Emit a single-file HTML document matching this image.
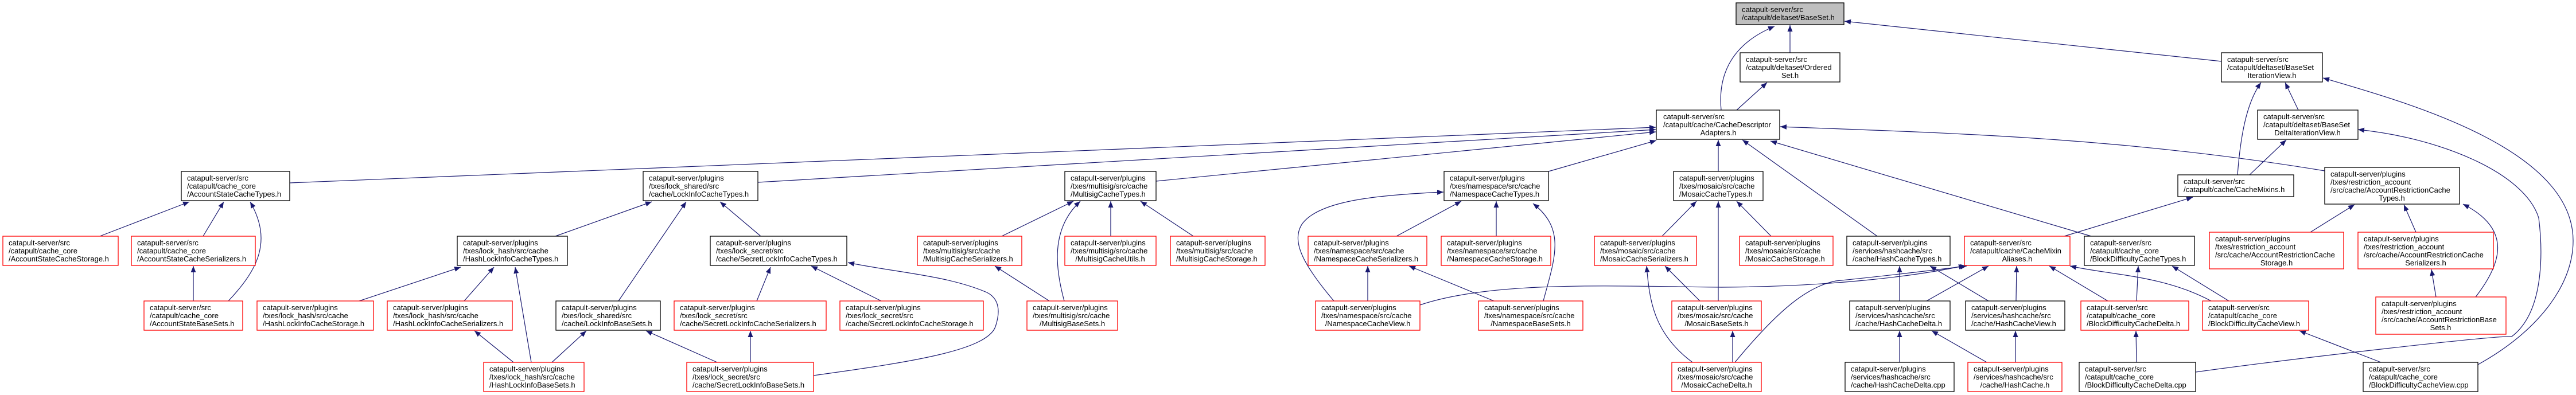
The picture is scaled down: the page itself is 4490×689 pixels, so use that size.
<!DOCTYPE html>
<html><head><meta charset="utf-8"><style>
html,body{margin:0;padding:0;background:#fff;}
svg{display:block;}
text{font-family:"Liberation Sans",Arial,sans-serif;font-size:13px;fill:#000;}
.e{fill:none;stroke:#191970;stroke-width:1.2;marker-end:url(#a);}
.b{fill:#fff;stroke:#000;stroke-width:1.3;}
.r{fill:#fff;stroke:#ff0000;stroke-width:1.3;}
</style></head><body>
<svg width="4490" height="689" viewBox="0 0 4490 689" xmlns="http://www.w3.org/2000/svg">
<defs><marker id="a" markerUnits="userSpaceOnUse" markerWidth="12" markerHeight="10" refX="11" refY="4.5" orient="auto"><path d="M0,0 L11,4.5 L0,9 z" fill="#191970"/></marker></defs>

<!-- edges -->
<path class="e" d="M3000,192 C2995,140 3010,80 3093,46"/>
<path class="e" d="M3120,92 L3120,44"/>
<path class="e" d="M3027,192 L3080,144"/>
<path class="e" d="M3872,107 L3215,37"/>
<path class="e" d="M3900,305 C3905,240 3915,180 3941,144"/>
<path class="e" d="M4006,192 L3983,144"/>
<path class="e" d="M3921,305 L3985,244"/>
<path class="e" d="M4052,298 C3700,240 3400,232 3103,221"/>
<path class="e" d="M3598,412 L3822,344"/>
<path class="e" d="M3272,412 L3037,244"/>
<path class="e" d="M3645,412 L3086,246"/>
<path class="e" d="M3087,412 L3027,351"/>
<path class="e" d="M4027,405 L4104,357"/>
<path class="e" d="M4211,405 L4190,357"/>
<path class="e" d="M4315,518 C4360,460 4380,400 4293,356"/>
<path class="e" d="M4246,518 L4238,470"/>
<path class="e" d="M3827,649 C4000,625 4350,585 4378,587 C4440,540 4430,420 4425,380 C4400,300 4250,240 4110,226"/>
<path class="e" d="M4319,636 C4420,580 4485,500 4485,420 C4485,260 4200,180 4049,136"/>
<path class="e" d="M4150,632 L4008,577"/>
<path class="e" d="M3724,632 L3723,577"/>
<path class="e" d="M3724,525 L3727,464"/>
<path class="e" d="M3885,525 L3786,464"/>
<path class="e" d="M3674,525 L3572,464"/>
<path class="e" d="M3854,525 C3770,480 3680,480 3608,464"/>
<path class="e" d="M3514,525 L3515,464"/>
<path class="e" d="M3358,525 L3466,464"/>
<path class="e" d="M3311,525 L3311,464"/>
<path class="e" d="M3466,525 L3364,464"/>
<path class="e" d="M3311,632 L3311,577"/>
<path class="e" d="M3463,632 L3367,577"/>
<path class="e" d="M3513,632 L3513,577"/>
<path class="e" d="M3024,632 C3100,540 3150,500 3200,490 C3300,480 3380,470 3428,464"/>
<path class="e" d="M2475,532 C2600,490 2800,499 3000,501 C3200,500 3350,480 3425,463"/>
<path class="e" d="M505,319 L2886,222"/>
<path class="e" d="M1321,318 L2886,226"/>
<path class="e" d="M2015,316 L2886,230"/>
<path class="e" d="M2699,299 L2887,245"/>
<path class="e" d="M2995,299 L2995,244"/>
<path class="e" d="M1746,412 L1871,351"/>
<path class="e" d="M1855,525 C1840,470 1830,400 1883,351"/>
<path class="e" d="M1936,412 L1936,351"/>
<path class="e" d="M2080,412 L1988,351"/>
<path class="e" d="M1829,525 L1734,464"/>
<path class="e" d="M2434,412 L2547,351"/>
<path class="e" d="M2608,412 L2608,351"/>
<path class="e" d="M2690,525 C2710,450 2730,400 2672,355"/>
<path class="e" d="M2325,525 C2270,460 2250,420 2270,390 C2300,350 2400,340 2516,335"/>
<path class="e" d="M2384,525 L2384,464"/>
<path class="e" d="M2604,525 L2456,464"/>
<path class="e" d="M2897,412 L2957,351"/>
<path class="e" d="M2995,525 L2995,351"/>
<path class="e" d="M2963,525 L2902,464"/>
<path class="e" d="M2950,632 C2880,580 2875,520 2870,464"/>
<path class="e" d="M3020,632 L3020,577"/>
<path class="e" d="M1418,655 C1600,630 1720,610 1735,570 C1745,540 1740,520 1720,510 C1650,480 1560,475 1478,458"/>
<path class="e" d="M1536,525 L1414,464"/>
<path class="e" d="M174,412 L330,352"/>
<path class="e" d="M354,412 L390,352"/>
<path class="e" d="M398,525 C450,470 475,420 436,352"/>
<path class="e" d="M337,525 L337,464"/>
<path class="e" d="M968,412 L1136,352"/>
<path class="e" d="M1078,525 L1196,352"/>
<path class="e" d="M1326,412 L1255,352"/>
<path class="e" d="M626,525 L803,466"/>
<path class="e" d="M809,525 L861,466"/>
<path class="e" d="M926,632 L898,466"/>
<path class="e" d="M895,632 L827,577"/>
<path class="e" d="M962,632 L1022,577"/>
<path class="e" d="M1250,632 L1126,577"/>
<path class="e" d="M1319,525 L1343,466"/>
<path class="e" d="M1308,632 L1308,577"/>

<!-- nodes -->
<rect x="3026" y="5" width="188" height="38" fill="#bfbfbf" stroke="#000" stroke-width="1.3"/>
<text x="3036" y="21">catapult-server/src</text><text x="3036" y="35">/catapult/deltaset/BaseSet.h</text>

<rect class="b" x="3033" y="92" width="174" height="51"/>
<text x="3043" y="108">catapult-server/src</text><text x="3043" y="122">/catapult/deltaset/Ordered</text><text x="3120" y="136" text-anchor="middle">Set.h</text>

<rect class="b" x="3872" y="92" width="176" height="51"/>
<text x="3882" y="108">catapult-server/src</text><text x="3882" y="122">/catapult/deltaset/BaseSet</text><text x="3960" y="136" text-anchor="middle">IterationView.h</text>

<rect class="b" x="3935" y="192" width="175" height="51"/>
<text x="3945" y="208">catapult-server/src</text><text x="3945" y="222">/catapult/deltaset/BaseSet</text><text x="4022" y="236" text-anchor="middle">DeltaIterationView.h</text>

<rect class="b" x="2887" y="192" width="215" height="51"/>
<text x="2899" y="208">catapult-server/src</text><text x="2899" y="222">/catapult/cache/CacheDescriptor</text><text x="2995" y="236" text-anchor="middle">Adapters.h</text>

<rect class="b" x="3796" y="305" width="202" height="38"/>
<text x="3806" y="321">catapult-server/src</text><text x="3806" y="335">/catapult/cache/CacheMixins.h</text>

<rect class="b" x="4052" y="292" width="235" height="64"/>
<text x="4062" y="308">catapult-server/plugins</text><text x="4062" y="322">/txes/restriction_account</text><text x="4062" y="336">/src/cache/AccountRestrictionCache</text><text x="4169" y="350" text-anchor="middle">Types.h</text>

<rect class="b" x="316" y="299" width="189" height="51"/>
<text x="326" y="315">catapult-server/src</text><text x="326" y="329">/catapult/cache_core</text><text x="326" y="343">/AccountStateCacheTypes.h</text>

<rect class="b" x="1121" y="299" width="200" height="51"/>
<text x="1131" y="315">catapult-server/plugins</text><text x="1131" y="329">/txes/lock_shared/src</text><text x="1131" y="343">/cache/LockInfoCacheTypes.h</text>

<rect class="b" x="1856" y="299" width="159" height="51"/>
<text x="1866" y="315">catapult-server/plugins</text><text x="1866" y="329">/txes/multisig/src/cache</text><text x="1866" y="343">/MultisigCacheTypes.h</text>

<rect class="b" x="2517" y="299" width="182" height="51"/>
<text x="2527" y="315">catapult-server/plugins</text><text x="2527" y="329">/txes/namespace/src/cache</text><text x="2527" y="343">/NamespaceCacheTypes.h</text>

<rect class="b" x="2917" y="299" width="156" height="51"/>
<text x="2927" y="315">catapult-server/plugins</text><text x="2927" y="329">/txes/mosaic/src/cache</text><text x="2927" y="343">/MosaicCacheTypes.h</text>

<!-- row 5 -->
<rect class="r" x="5" y="412" width="201" height="51"/>
<text x="15" y="428">catapult-server/src</text><text x="15" y="442">/catapult/cache_core</text><text x="15" y="456">/AccountStateCacheStorage.h</text>

<rect class="r" x="229" y="412" width="216" height="51"/>
<text x="239" y="428">catapult-server/src</text><text x="239" y="442">/catapult/cache_core</text><text x="239" y="456">/AccountStateCacheSerializers.h</text>

<rect class="b" x="797" y="412" width="192" height="51"/>
<text x="807" y="428">catapult-server/plugins</text><text x="807" y="442">/txes/lock_hash/src/cache</text><text x="807" y="456">/HashLockInfoCacheTypes.h</text>

<rect class="b" x="1238" y="412" width="238" height="51"/>
<text x="1248" y="428">catapult-server/plugins</text><text x="1248" y="442">/txes/lock_secret/src</text><text x="1248" y="456">/cache/SecretLockInfoCacheTypes.h</text>

<rect class="r" x="1599" y="412" width="182" height="51"/>
<text x="1609" y="428">catapult-server/plugins</text><text x="1609" y="442">/txes/multisig/src/cache</text><text x="1609" y="456">/MultisigCacheSerializers.h</text>

<rect class="r" x="1856" y="412" width="159" height="51"/>
<text x="1866" y="428">catapult-server/plugins</text><text x="1866" y="442">/txes/multisig/src/cache</text><text x="1935" y="456" text-anchor="middle">/MultisigCacheUtils.h</text>

<rect class="r" x="2040" y="412" width="165" height="51"/>
<text x="2050" y="428">catapult-server/plugins</text><text x="2050" y="442">/txes/multisig/src/cache</text><text x="2050" y="456">/MultisigCacheStorage.h</text>

<rect class="r" x="2280" y="412" width="207" height="51"/>
<text x="2290" y="428">catapult-server/plugins</text><text x="2290" y="442">/txes/namespace/src/cache</text><text x="2290" y="456">/NamespaceCacheSerializers.h</text>

<rect class="r" x="2512" y="412" width="191" height="51"/>
<text x="2522" y="428">catapult-server/plugins</text><text x="2522" y="442">/txes/namespace/src/cache</text><text x="2522" y="456">/NamespaceCacheStorage.h</text>

<rect class="r" x="2779" y="412" width="178" height="51"/>
<text x="2789" y="428">catapult-server/plugins</text><text x="2789" y="442">/txes/mosaic/src/cache</text><text x="2789" y="456">/MosaicCacheSerializers.h</text>

<rect class="r" x="3032" y="412" width="163" height="51"/>
<text x="3042" y="428">catapult-server/plugins</text><text x="3042" y="442">/txes/mosaic/src/cache</text><text x="3042" y="456">/MosaicCacheStorage.h</text>

<rect class="b" x="3219" y="412" width="180" height="51"/>
<text x="3229" y="428">catapult-server/plugins</text><text x="3229" y="442">/services/hashcache/src</text><text x="3229" y="456">/cache/HashCacheTypes.h</text>

<rect class="r" x="3424" y="412" width="184" height="51"/>
<text x="3434" y="428">catapult-server/src</text><text x="3434" y="442">/catapult/cache/CacheMixin</text><text x="3516" y="456" text-anchor="middle">Aliases.h</text>

<rect class="b" x="3633" y="412" width="192" height="51"/>
<text x="3643" y="428">catapult-server/src</text><text x="3643" y="442">/catapult/cache_core</text><text x="3643" y="456">/BlockDifficultyCacheTypes.h</text>

<rect class="r" x="3851" y="405" width="234" height="64"/>
<text x="3861" y="421">catapult-server/plugins</text><text x="3861" y="435">/txes/restriction_account</text><text x="3861" y="449">/src/cache/AccountRestrictionCache</text><text x="3968" y="463" text-anchor="middle">Storage.h</text>

<rect class="r" x="4110" y="405" width="236" height="64"/>
<text x="4120" y="421">catapult-server/plugins</text><text x="4120" y="435">/txes/restriction_account</text><text x="4120" y="449">/src/cache/AccountRestrictionCache</text><text x="4228" y="463" text-anchor="middle">Serializers.h</text>

<!-- row 6 -->
<rect class="r" x="251" y="525" width="172" height="51"/>
<text x="261" y="541">catapult-server/src</text><text x="261" y="555">/catapult/cache_core</text><text x="261" y="569">/AccountStateBaseSets.h</text>

<rect class="r" x="448" y="525" width="203" height="51"/>
<text x="458" y="541">catapult-server/plugins</text><text x="458" y="555">/txes/lock_hash/src/cache</text><text x="458" y="569">/HashLockInfoCacheStorage.h</text>

<rect class="r" x="675" y="525" width="218" height="51"/>
<text x="685" y="541">catapult-server/plugins</text><text x="685" y="555">/txes/lock_hash/src/cache</text><text x="685" y="569">/HashLockInfoCacheSerializers.h</text>

<rect class="b" x="969" y="525" width="182" height="51"/>
<text x="979" y="541">catapult-server/plugins</text><text x="979" y="555">/txes/lock_shared/src</text><text x="979" y="569">/cache/LockInfoBaseSets.h</text>

<rect class="r" x="1175" y="525" width="265" height="51"/>
<text x="1185" y="541">catapult-server/plugins</text><text x="1185" y="555">/txes/lock_secret/src</text><text x="1185" y="569">/cache/SecretLockInfoCacheSerializers.h</text>

<rect class="r" x="1464" y="525" width="250" height="51"/>
<text x="1474" y="541">catapult-server/plugins</text><text x="1474" y="555">/txes/lock_secret/src</text><text x="1474" y="569">/cache/SecretLockInfoCacheStorage.h</text>

<rect class="r" x="1790" y="525" width="158" height="51"/>
<text x="1800" y="541">catapult-server/plugins</text><text x="1800" y="555">/txes/multisig/src/cache</text><text x="1869" y="569" text-anchor="middle">/MultisigBaseSets.h</text>

<rect class="r" x="2293" y="525" width="182" height="51"/>
<text x="2303" y="541">catapult-server/plugins</text><text x="2303" y="555">/txes/namespace/src/cache</text><text x="2384" y="569" text-anchor="middle">/NamespaceCacheView.h</text>

<rect class="r" x="2577" y="525" width="182" height="51"/>
<text x="2587" y="541">catapult-server/plugins</text><text x="2587" y="555">/txes/namespace/src/cache</text><text x="2668" y="569" text-anchor="middle">/NamespaceBaseSets.h</text>

<rect class="r" x="2914" y="525" width="156" height="51"/>
<text x="2924" y="541">catapult-server/plugins</text><text x="2924" y="555">/txes/mosaic/src/cache</text><text x="2992" y="569" text-anchor="middle">/MosaicBaseSets.h</text>

<rect class="b" x="3224" y="525" width="175" height="51"/>
<text x="3234" y="541">catapult-server/plugins</text><text x="3234" y="555">/services/hashcache/src</text><text x="3234" y="569">/cache/HashCacheDelta.h</text>

<rect class="b" x="3426" y="525" width="173" height="51"/>
<text x="3436" y="541">catapult-server/plugins</text><text x="3436" y="555">/services/hashcache/src</text><text x="3436" y="569">/cache/HashCacheView.h</text>

<rect class="r" x="3627" y="525" width="188" height="51"/>
<text x="3637" y="541">catapult-server/src</text><text x="3637" y="555">/catapult/cache_core</text><text x="3637" y="569">/BlockDifficultyCacheDelta.h</text>

<rect class="r" x="3839" y="525" width="185" height="51"/>
<text x="3849" y="541">catapult-server/src</text><text x="3849" y="555">/catapult/cache_core</text><text x="3849" y="569">/BlockDifficultyCacheView.h</text>

<rect class="r" x="4141" y="518" width="227" height="65"/>
<text x="4151" y="534">catapult-server/plugins</text><text x="4151" y="548">/txes/restriction_account</text><text x="4151" y="562">/src/cache/AccountRestrictionBase</text><text x="4254" y="576" text-anchor="middle">Sets.h</text>

<!-- row 7 -->
<rect class="r" x="843" y="632" width="175" height="51"/>
<text x="853" y="648">catapult-server/plugins</text><text x="853" y="662">/txes/lock_hash/src/cache</text><text x="853" y="676">/HashLockInfoBaseSets.h</text>

<rect class="r" x="1197" y="632" width="221" height="51"/>
<text x="1207" y="648">catapult-server/plugins</text><text x="1207" y="662">/txes/lock_secret/src</text><text x="1207" y="676">/cache/SecretLockInfoBaseSets.h</text>

<rect class="r" x="2914" y="632" width="156" height="51"/>
<text x="2924" y="648">catapult-server/plugins</text><text x="2924" y="662">/txes/mosaic/src/cache</text><text x="2992" y="676" text-anchor="middle">/MosaicCacheDelta.h</text>

<rect class="b" x="3216" y="632" width="190" height="51"/>
<text x="3226" y="648">catapult-server/plugins</text><text x="3226" y="662">/services/hashcache/src</text><text x="3226" y="676">/cache/HashCacheDelta.cpp</text>

<rect class="r" x="3430" y="632" width="164" height="51"/>
<text x="3440" y="648">catapult-server/plugins</text><text x="3440" y="662">/services/hashcache/src</text><text x="3512" y="676" text-anchor="middle">/cache/HashCache.h</text>

<rect class="b" x="3624" y="632" width="203" height="51"/>
<text x="3634" y="648">catapult-server/src</text><text x="3634" y="662">/catapult/cache_core</text><text x="3634" y="676">/BlockDifficultyCacheDelta.cpp</text>

<rect class="b" x="4119" y="632" width="200" height="51"/>
<text x="4129" y="648">catapult-server/src</text><text x="4129" y="662">/catapult/cache_core</text><text x="4129" y="676">/BlockDifficultyCacheView.cpp</text>
</svg>
</body></html>
